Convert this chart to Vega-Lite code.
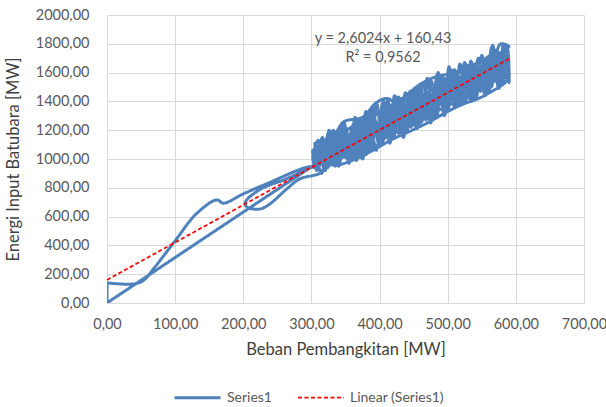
{
  "$schema": "https://vega.github.io/schema/vega-lite/v6.json",
  "width": 477,
  "height": 288,
  "autosize": {"type": "none"},
  "padding": {"left": 107, "top": 15, "right": 22, "bottom": 104},
  "background": "white",
  "config": {
    "view": {"stroke": null},
    "font": "Lato",
    "axis": {
      "gridColor": "#D9D9D9", "gridWidth": 1, "domainColor": "#D9D9D9", "domainWidth": 1,
      "ticks": false, "labelFont": "Lato", "labelFontSize": 14.5, "labelColor": "#595959",
      "labelFlush": false, "labelOverlap": false,
      "titleFont": "Lato", "titleFontSize": 16.5, "titleColor": "#404040", "titleFontWeight": "normal"
    }
  },
  "datasets": {
    "series": [
      {"i":1,"x":470,"y":1400},{"i":2,"x":440,"y":1280},{"i":3,"x":410,"y":1260},{"i":4,"x":380,"y":1130},{"i":5,"x":350,"y":1120},{"i":6,"x":325,"y":1060},{"i":7,"x":318,"y":950},{"i":8,"x":340,"y":990},{"i":9,"x":365,"y":1110},{"i":10,"x":395,"y":1210},
      {"i":11,"x":430,"y":1250},{"i":12,"x":460,"y":1380},{"i":13,"x":495,"y":1440},{"i":14,"x":525,"y":1500},{"i":15,"x":560,"y":1580},{"i":16,"x":585,"y":1640},{"i":17,"x":588,"y":1720},{"i":18,"x":570,"y":1690},{"i":19,"x":545,"y":1630},{"i":20,"x":515,"y":1560},
      {"i":21,"x":485,"y":1480},{"i":22,"x":455,"y":1330},{"i":23,"x":425,"y":1320},{"i":24,"x":400,"y":1190},{"i":25,"x":370,"y":1160},{"i":26,"x":345,"y":1060},{"i":27,"x":322,"y":1010},{"i":28,"x":305,"y":960},
      {"i":29,"x":0,"y":0},{"i":29.5,"x":0,"y":0},{"i":30,"x":0,"y":140},{"i":30.5,"x":0,"y":140},{"i":31,"x":38,"y":132},{"i":32,"x":53,"y":155},{"i":33,"x":70,"y":248},{"i":34,"x":102,"y":445},{"i":35,"x":131,"y":619},{"i":36,"x":161,"y":716},{"i":37,"x":171,"y":693},{"i":38,"x":200,"y":758},{"i":39,"x":234,"y":827},{"i":40,"x":293,"y":943},
      {"i":41,"x":310,"y":950},{"i":42,"x":330,"y":1050},{"i":43,"x":355,"y":1010},{"i":44,"x":372,"y":1130},{"i":45,"x":390,"y":1180},{"i":46,"x":420,"y":1240},{"i":47,"x":450,"y":1300},{"i":48,"x":480,"y":1420},{"i":49,"x":510,"y":1470},{"i":50,"x":540,"y":1560},
      {"i":51,"x":565,"y":1640},{"i":52,"x":580,"y":1700},{"i":53,"x":575,"y":1610},{"i":54,"x":555,"y":1560},{"i":55,"x":530,"y":1590},{"i":56,"x":500,"y":1420},{"i":57,"x":475,"y":1380},{"i":58,"x":445,"y":1300},{"i":59,"x":412,"y":1420},{"i":60,"x":395,"y":1390},
      {"i":61,"x":375,"y":1290},{"i":62,"x":348,"y":1260},{"i":63,"x":335,"y":1180},{"i":64,"x":315,"y":1110},{"i":65,"x":352,"y":1150},{"i":66,"x":375,"y":1090},{"i":67,"x":405,"y":1280},{"i":68,"x":438,"y":1350},{"i":69,"x":470,"y":1340},{"i":70,"x":505,"y":1500},
      {"i":71,"x":535,"y":1520},{"i":72,"x":562,"y":1650},{"i":73,"x":583,"y":1760},{"i":74,"x":590,"y":1780},{"i":75,"x":578,"y":1800},{"i":76,"x":568,"y":1720},{"i":77,"x":540,"y":1660},{"i":78,"x":510,"y":1600},{"i":79,"x":482,"y":1570},{"i":80,"x":460,"y":1520},
      {"i":81,"x":430,"y":1410},{"i":82,"x":400,"y":1330},{"i":83,"x":380,"y":1280},{"i":84,"x":360,"y":1180},{"i":85,"x":342,"y":1140},{"i":86,"x":328,"y":1120},{"i":87,"x":312,"y":1060},{"i":88,"x":330,"y":960},{"i":89,"x":360,"y":990},{"i":90,"x":390,"y":1060},
      {"i":91,"x":420,"y":1140},{"i":92,"x":448,"y":1200},{"i":93,"x":474,"y":1260},{"i":94,"x":500,"y":1330},{"i":95,"x":522,"y":1380},{"i":96,"x":545,"y":1420},{"i":97,"x":565,"y":1470},{"i":98,"x":586,"y":1540},{"i":99,"x":590,"y":1600},{"i":100,"x":575,"y":1560},
      {"i":101,"x":555,"y":1500},{"i":102,"x":530,"y":1440},{"i":103,"x":500,"y":1370},{"i":104,"x":470,"y":1300},{"i":105,"x":445,"y":1240},{"i":106,"x":415,"y":1170},{"i":107,"x":385,"y":1060},{"i":108,"x":358,"y":1030},{"i":109,"x":335,"y":990},{"i":110,"x":320,"y":940},
      {"i":111,"x":312,"y":900},{"i":112,"x":283,"y":862},{"i":113,"x":264,"y":793},{"i":114,"x":239,"y":688},{"i":115,"x":224,"y":652},{"i":116,"x":205,"y":668},{"i":117,"x":203,"y":700},{"i":118,"x":225,"y":790},{"i":119,"x":262,"y":860},{"i":120,"x":308,"y":960},
      {"i":121,"x":340,"y":1020},{"i":122,"x":368,"y":1060},{"i":123,"x":392,"y":1160},{"i":124,"x":418,"y":1220},{"i":125,"x":446,"y":1300},{"i":126,"x":475,"y":1360},{"i":127,"x":500,"y":1400},{"i":128,"x":528,"y":1470},{"i":129,"x":552,"y":1540},{"i":130,"x":578,"y":1600},
      {"i":131,"x":590,"y":1680},{"i":132,"x":582,"y":1640},{"i":133,"x":560,"y":1610},{"i":134,"x":535,"y":1560},{"i":135,"x":508,"y":1530},{"i":136,"x":478,"y":1440},{"i":137,"x":452,"y":1400},{"i":138,"x":426,"y":1300},{"i":139,"x":398,"y":1240},{"i":140,"x":372,"y":1200},
      {"i":141,"x":348,"y":1100},{"i":142,"x":326,"y":1040},{"i":143,"x":308,"y":980},{"i":144,"x":318,"y":1020},{"i":145,"x":344,"y":1080},{"i":146,"x":372,"y":1140},{"i":147,"x":400,"y":1170},{"i":148,"x":428,"y":1200},{"i":149,"x":455,"y":1270},{"i":150,"x":488,"y":1380},
      {"i":151,"x":515,"y":1440},{"i":152,"x":542,"y":1500},{"i":153,"x":568,"y":1540},{"i":154,"x":588,"y":1580},{"i":155,"x":586,"y":1700},{"i":156,"x":572,"y":1740},{"i":157,"x":550,"y":1680},{"i":158,"x":525,"y":1620},{"i":159,"x":498,"y":1560},{"i":160,"x":470,"y":1460},
      {"i":161,"x":445,"y":1420},{"i":162,"x":415,"y":1350},{"i":163,"x":390,"y":1300},{"i":164,"x":365,"y":1240},{"i":165,"x":340,"y":1160},{"i":166,"x":318,"y":1080},{"i":167,"x":305,"y":1000},{"i":168,"x":330,"y":1080},{"i":169,"x":356,"y":1120},{"i":170,"x":384,"y":1180},
      {"i":171,"x":410,"y":1230},{"i":172,"x":436,"y":1290},{"i":173,"x":465,"y":1350},{"i":174,"x":492,"y":1420},{"i":175,"x":518,"y":1490},{"i":176,"x":548,"y":1560},{"i":177,"x":575,"y":1630},{"i":178,"x":589,"y":1660},{"i":179,"x":576,"y":1680},{"i":180,"x":556,"y":1640},
      {"i":181,"x":532,"y":1600},{"i":182,"x":506,"y":1480},{"i":183,"x":480,"y":1400},{"i":184,"x":458,"y":1340},{"i":185,"x":432,"y":1280},{"i":186,"x":405,"y":1220},{"i":187,"x":378,"y":1170},{"i":188,"x":352,"y":1080},{"i":189,"x":330,"y":1010},{"i":190,"x":315,"y":970},
      {"i":191,"x":305,"y":1110},{"i":192,"x":315,"y":900},{"i":193,"x":325,"y":1180},{"i":194,"x":335,"y":950},{"i":195,"x":345,"y":1250},{"i":196,"x":355,"y":970},{"i":197,"x":365,"y":1270},{"i":198,"x":375,"y":1000},{"i":199,"x":385,"y":1330},{"i":200,"x":395,"y":1060},
      {"i":201,"x":405,"y":1390},{"i":202,"x":415,"y":1110},{"i":203,"x":425,"y":1430},{"i":204,"x":435,"y":1150},{"i":205,"x":445,"y":1470},{"i":206,"x":455,"y":1210},{"i":207,"x":465,"y":1530},{"i":208,"x":475,"y":1250},{"i":209,"x":485,"y":1590},{"i":210,"x":495,"y":1300},
      {"i":211,"x":505,"y":1620},{"i":212,"x":515,"y":1370},{"i":213,"x":525,"y":1670},{"i":214,"x":535,"y":1400},{"i":215,"x":545,"y":1700},{"i":216,"x":555,"y":1440},{"i":217,"x":565,"y":1780},{"i":218,"x":575,"y":1490},{"i":219,"x":585,"y":1790},{"i":220,"x":590,"y":1530},
      {"i":221,"x":588,"y":1760},{"i":222,"x":580,"y":1520},{"i":223,"x":570,"y":1740},{"i":224,"x":560,"y":1470},{"i":225,"x":550,"y":1700},{"i":226,"x":540,"y":1430},{"i":227,"x":530,"y":1650},{"i":228,"x":520,"y":1390},{"i":229,"x":510,"y":1620},{"i":230,"x":500,"y":1350},
      {"i":231,"x":490,"y":1570},{"i":232,"x":480,"y":1290},{"i":233,"x":470,"y":1520},{"i":234,"x":460,"y":1250},{"i":235,"x":450,"y":1470},{"i":236,"x":440,"y":1200},{"i":237,"x":430,"y":1420},{"i":238,"x":420,"y":1140},{"i":239,"x":410,"y":1380},{"i":240,"x":400,"y":1090},
      {"i":241,"x":390,"y":1330},{"i":242,"x":380,"y":1030},{"i":243,"x":370,"y":1280},{"i":244,"x":360,"y":990},{"i":245,"x":350,"y":1220},{"i":246,"x":340,"y":950},{"i":247,"x":330,"y":1160},{"i":248,"x":320,"y":920},{"i":249,"x":310,"y":1090},{"i":250,"x":303,"y":940},
      {"i":251,"x":320,"y":1100},{"i":252,"x":332,"y":990},{"i":253,"x":344,"y":1150},{"i":254,"x":356,"y":1040},{"i":255,"x":368,"y":1210},{"i":256,"x":380,"y":1080},{"i":257,"x":392,"y":1280},{"i":258,"x":404,"y":1130},{"i":259,"x":416,"y":1330},{"i":260,"x":428,"y":1180},
      {"i":261,"x":440,"y":1380},{"i":262,"x":452,"y":1240},{"i":263,"x":464,"y":1430},{"i":264,"x":476,"y":1300},{"i":265,"x":488,"y":1500},{"i":266,"x":500,"y":1380},{"i":267,"x":512,"y":1560},{"i":268,"x":524,"y":1420},{"i":269,"x":536,"y":1620},{"i":270,"x":548,"y":1480},
      {"i":271,"x":560,"y":1690},{"i":272,"x":572,"y":1560},{"i":273,"x":584,"y":1730},{"i":274,"x":590,"y":1620},{"i":275,"x":586,"y":1580},{"i":276,"x":578,"y":1700},{"i":277,"x":566,"y":1540},{"i":278,"x":554,"y":1660},{"i":279,"x":542,"y":1480},{"i":280,"x":530,"y":1610},
      {"i":281,"x":518,"y":1420},{"i":282,"x":506,"y":1560},{"i":283,"x":494,"y":1380},{"i":284,"x":482,"y":1500},{"i":285,"x":470,"y":1320},{"i":286,"x":458,"y":1450},{"i":287,"x":446,"y":1260},{"i":288,"x":434,"y":1400},{"i":289,"x":422,"y":1200},{"i":290,"x":410,"y":1340},
      {"i":291,"x":398,"y":1150},{"i":292,"x":386,"y":1290},{"i":293,"x":374,"y":1080},{"i":294,"x":362,"y":1240},{"i":295,"x":350,"y":1020},{"i":296,"x":338,"y":1180},{"i":297,"x":326,"y":980},{"i":298,"x":314,"y":1120},{"i":299,"x":306,"y":960},
      {"i":300,"x":302,"y":1000},{"i":301,"x":310,"y":1130},{"i":302,"x":318,"y":960},{"i":303,"x":326,"y":1200},{"i":304,"x":334,"y":1000},{"i":305,"x":342,"y":1230},{"i":306,"x":350,"y":1010},{"i":307,"x":358,"y":1180},{"i":308,"x":366,"y":990},{"i":309,"x":374,"y":1250},
      {"i":310,"x":382,"y":1060},{"i":311,"x":390,"y":1360},{"i":312,"x":398,"y":1120},{"i":313,"x":406,"y":1400},{"i":314,"x":414,"y":1160},{"i":315,"x":422,"y":1440},{"i":316,"x":430,"y":1210},{"i":317,"x":438,"y":1460},{"i":318,"x":446,"y":1220},{"i":319,"x":454,"y":1500},
      {"i":320,"x":462,"y":1260},{"i":321,"x":470,"y":1560},{"i":322,"x":478,"y":1280},{"i":323,"x":486,"y":1600},{"i":324,"x":494,"y":1330},{"i":325,"x":502,"y":1640},{"i":326,"x":510,"y":1360},{"i":327,"x":518,"y":1660},{"i":328,"x":526,"y":1400},{"i":329,"x":534,"y":1680},
      {"i":330,"x":542,"y":1430},{"i":331,"x":550,"y":1720},{"i":332,"x":558,"y":1460},{"i":333,"x":566,"y":1790},{"i":334,"x":574,"y":1510},{"i":335,"x":582,"y":1800},{"i":336,"x":590,"y":1550},
      {"i":337,"x":588,"y":1700},{"i":338,"x":580,"y":1560},{"i":339,"x":572,"y":1760},{"i":340,"x":564,"y":1500},{"i":341,"x":556,"y":1700},{"i":342,"x":548,"y":1470},{"i":343,"x":540,"y":1660},{"i":344,"x":532,"y":1420},{"i":345,"x":524,"y":1640},{"i":346,"x":516,"y":1390},
      {"i":347,"x":508,"y":1600},{"i":348,"x":500,"y":1340},{"i":349,"x":492,"y":1580},{"i":350,"x":484,"y":1300},{"i":351,"x":476,"y":1540},{"i":352,"x":468,"y":1270},{"i":353,"x":460,"y":1500},{"i":354,"x":452,"y":1230},{"i":355,"x":444,"y":1450},{"i":356,"x":436,"y":1180},
      {"i":357,"x":428,"y":1430},{"i":358,"x":420,"y":1150},{"i":359,"x":412,"y":1410},{"i":360,"x":404,"y":1110},{"i":361,"x":396,"y":1380},{"i":362,"x":388,"y":1070},{"i":363,"x":380,"y":1330},{"i":364,"x":372,"y":1010},{"i":365,"x":364,"y":1290},{"i":366,"x":356,"y":990},
      {"i":367,"x":348,"y":1250},{"i":368,"x":340,"y":970},{"i":369,"x":332,"y":1200},{"i":370,"x":324,"y":940},{"i":371,"x":316,"y":1150},{"i":372,"x":308,"y":920},{"i":373,"x":302,"y":1060},
      {"i":374,"x":306,"y":1040},{"i":375,"x":313,"y":990},{"i":376,"x":320,"y":1060},{"i":377,"x":327,"y":1020},{"i":378,"x":334,"y":1110},{"i":379,"x":341,"y":1060},{"i":380,"x":348,"y":1160},{"i":381,"x":355,"y":1090},{"i":382,"x":362,"y":1190},{"i":383,"x":369,"y":1130},
      {"i":384,"x":376,"y":1230},{"i":385,"x":383,"y":1150},{"i":386,"x":390,"y":1250},{"i":387,"x":397,"y":1180},{"i":388,"x":404,"y":1300},{"i":389,"x":411,"y":1220},{"i":390,"x":418,"y":1320},{"i":391,"x":425,"y":1250},{"i":392,"x":432,"y":1350},{"i":393,"x":439,"y":1290},
      {"i":394,"x":446,"y":1380},{"i":395,"x":453,"y":1320},{"i":396,"x":460,"y":1410},{"i":397,"x":467,"y":1340},{"i":398,"x":474,"y":1440},{"i":399,"x":481,"y":1380},{"i":400,"x":488,"y":1470},{"i":401,"x":495,"y":1420},{"i":402,"x":502,"y":1520},{"i":403,"x":509,"y":1450},
      {"i":404,"x":516,"y":1540},{"i":405,"x":523,"y":1480},{"i":406,"x":530,"y":1580},{"i":407,"x":537,"y":1520},{"i":408,"x":544,"y":1610},{"i":409,"x":551,"y":1560},{"i":410,"x":558,"y":1640},{"i":411,"x":565,"y":1600},{"i":412,"x":572,"y":1670},{"i":413,"x":579,"y":1620},
      {"i":414,"x":586,"y":1720},{"i":415,"x":590,"y":1650}
    ],
    "trend": [{"x":0,"y":160.43},{"x":590,"y":1695.85}],
    "eq": [{"x":405,"y":1832,"t":"y = 2,6024x + 160,43"},{"x":405,"y":1698,"t":"R² = 0,9562"}]
  },
  "encoding": {
    "x": {"field": "x", "type": "quantitative", "title": "Beban Pembangkitan [MW]",
      "scale": {"domain": [0, 700], "nice": false},
      "axis": {"values": [0,100,200,300,400,500,600,700], "labelExpr": "replace(format(datum.value, '.2f'), '.', ',')", "labelPadding": 14, "titlePadding": 11}},
    "y": {"field": "y", "type": "quantitative", "title": "Energi Input Batubara [MW]",
      "scale": {"domain": [0, 2000], "nice": false},
      "axis": {"values": [0,200,400,600,800,1000,1200,1400,1600,1800,2000], "labelExpr": "replace(format(datum.value, '.2f'), '.', ',')", "labelPadding": 18, "titlePadding": 14}}
  },
  "layer": [
    {
      "data": {"name": "series"},
      "mark": {"type": "line", "interpolate": "catmull-rom", "clip": true},
      "encoding": {
        "order": {"field": "i", "type": "quantitative"},
        "color": {"datum": "Series1", "type": "nominal",
          "scale": {"domain": ["Series1", "Linear (Series1)"], "range": ["#4F81BD", "#FF0000"]},
          "legend": {"orient": "none", "legendX": 66, "legendY": 358, "direction": "horizontal", "title": null,
            "symbolType": "stroke", "symbolSize": 2116, "labelFont": "Lato", "labelFontSize": 14, "labelColor": "#595959",
            "columnPadding": 22, "labelOffset": 5, "padding": 0}},
        "strokeDash": {"datum": "Series1", "type": "nominal",
          "scale": {"domain": ["Series1", "Linear (Series1)"], "range": [[1, 0], [4, 2.5]]}},
        "strokeWidth": {"datum": "Series1", "type": "nominal",
          "scale": {"domain": ["Series1", "Linear (Series1)"], "range": [3, 1.75]}}
      }
    },
    {
      "data": {"name": "trend"},
      "mark": {"type": "line"},
      "encoding": {
        "color": {"datum": "Linear (Series1)", "type": "nominal"},
        "strokeDash": {"datum": "Linear (Series1)", "type": "nominal"},
        "strokeWidth": {"datum": "Linear (Series1)", "type": "nominal"}
      }
    },
    {
      "data": {"name": "eq"},
      "mark": {"type": "text", "font": "Lato", "fontSize": 14.5, "color": "#595959", "baseline": "middle", "align": "center"},
      "encoding": {
        "text": {"field": "t"}
      }
    }
  ]
}
